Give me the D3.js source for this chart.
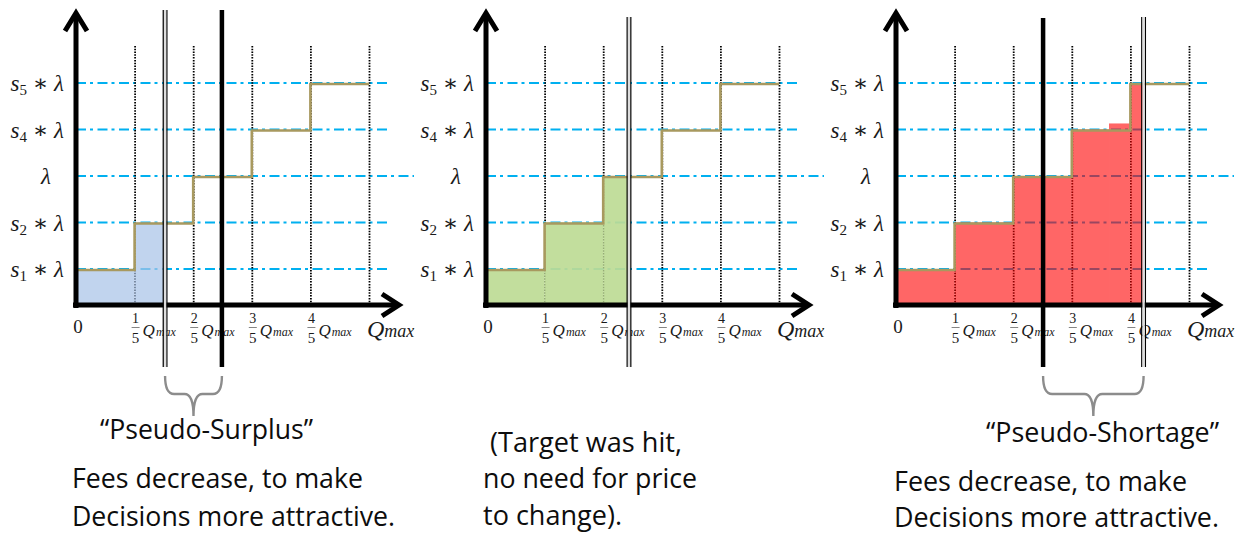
<!DOCTYPE html>
<html>
<head>
<meta charset="utf-8">
<script src="https://cdn.jsdelivr.net/npm/d3@7"></script>
<style>
body { margin: 0; background: #fff; }
</style>
</head>
<body>
<script>
// price levels, in grid units (s1*λ ... s5*λ)
var levels = [1, 2, 3, 4, 5];
var levelSubs = ["1", "2", null, "4", "5"]; // null = plain λ
// quantity ticks as fractions of Qmax
var tickFractions = [0.2, 0.4, 0.6, 0.8, 1];
var tickNumerators = ["1", "2", "3", "4"];
// step function: price level from each fifth of Qmax on
var stepX = [0, 0.2, 0.4, 0.6, 0.8, 1];
var stepLevel = [1, 2, 3, 4, 5, 5];

// filled area under the steps for each panel: [from, to, level]
var surplusBars = [[0, 0.2, 1], [0.2, 0.31, 2]];
var targetBars = [[0, 0.2, 1], [0.2, 0.4, 2], [0.4, 0.487, 3]];
var shortageBars = [[0, 0.2, 1], [0.2, 0.4, 2], [0.4, 0.6, 3],
  [0.6, 0.727, 4], [0.727, 0.8, 4.13], [0.8, 0.845, 5]];

// markers (fractions of Qmax): thick = target, double = actual
var thickMarks = [0.498, null, 0.502];
var doubleMarks = [0.304, 0.488, 0.845];

// captions under each panel
var braceLabels = ["\u201cPseudo-Surplus\u201d", null, "\u201cPseudo-Shortage\u201d"];
var captionLines = [
  ["Fees decrease, to make", "Decisions more attractive."],
  ["(Target was hit,", "no need for price", "to change)."],
  ["Fees decrease, to make", "Decisions more attractive."]
];

var width = 1243, height = 536;
var svg = d3.select("body").append("svg")
  .attr("width", width)
  .attr("height", height);

var plotW = 293;
var x = d3.scaleLinear().domain([0, 1]).range([0, plotW]);
var y = d3.scaleLinear().domain([0.226, 5]).range([305, 83]);

var panels = [
  {ox: 76, bars: surplusBars, fill: "#a9c3e8", opacity: 0.72, markTop: 10},
  {ox: 486, bars: targetBars, fill: "#bddb95", opacity: 0.92, markTop: 17},
  {ox: 896, bars: shortageBars, fill: "#ff0000", opacity: 0.6, markTop: 17}
];

var mathFont = "'Liberation Serif', 'DejaVu Serif', serif";
var textFont = "'Open Sans', 'Noto Sans', sans-serif";

panels.forEach(function(p, i) {
  var g = svg.append("g").attr("transform", "translate(" + p.ox + ",0)");

  // dash-dot price lines
  g.selectAll(".level")
    .data(levels)
    .enter()
    .append("line")
    .attr("x1", 0)
    .attr("x2", function(d) { return d == 3 ? 338 : 314; })
    .attr("y1", function(d) { return y(d); })
    .attr("y2", function(d) { return y(d); })
    .attr("stroke", "#00b0f0")
    .attr("stroke-width", 2)
    .attr("stroke-dasharray", "10,4,3,4.5");

  // dotted quantity lines
  var xAxis = d3.axisBottom(x)
    .tickValues(tickFractions)
    .tickSize(-(305 - 45))
    .tickFormat("");
  var ax = g.append("g")
    .attr("transform", "translate(0,305)")
    .call(xAxis);
  ax.select(".domain").remove();
  ax.selectAll(".tick line")
    .attr("stroke", "#000")
    .attr("stroke-width", 1.8)
    .attr("stroke-dasharray", "1.5,1.3");

  // fill under the steps
  g.selectAll(".bar")
    .data(p.bars)
    .enter()
    .append("rect")
    .attr("x", function(d) { return x(d[0]); })
    .attr("width", function(d) { return x(d[1]) - x(d[0]); })
    .attr("y", function(d) { return y(d[2]); })
    .attr("height", function(d) { return 305 - y(d[2]); })
    .attr("fill", p.fill)
    .attr("fill-opacity", p.opacity);

  // price step line
  var step = d3.line()
    .x(function(d) { return x(d[0]); })
    .y(function(d) { return y(d[1]) + 1; })
    .curve(d3.curveStepAfter);
  g.append("path")
    .datum(d3.zip(stepX, stepLevel))
    .attr("d", step)
    .attr("fill", "none")
    .attr("stroke", "#a8995f")
    .attr("stroke-width", 2.6);

  // axes with open arrow heads
  g.append("line")
    .attr("x1", 0).attr("x2", 0)
    .attr("y1", 14).attr("y2", 308)
    .attr("stroke", "#000").attr("stroke-width", 5);
  g.append("line")
    .attr("x1", -3).attr("x2", 322)
    .attr("y1", 305).attr("y2", 305)
    .attr("stroke", "#000").attr("stroke-width", 5);
  g.append("path")
    .attr("d", "M-11,31L0,13L11,31")
    .attr("fill", "none").attr("stroke", "#000").attr("stroke-width", 5);
  g.append("path")
    .attr("d", "M306,294L323,305L306,316")
    .attr("fill", "none").attr("stroke", "#000").attr("stroke-width", 5);

  // y labels
  var yl = g.selectAll(".ylab")
    .data(levels)
    .enter()
    .append("text")
    .attr("font-family", mathFont)
    .attr("font-size", 23)
    .attr("fill", "#1a1a1a")
    .attr("y", function(d) { return y(d) + 8; })
    .attr("x", function(d, j) { return levelSubs[j] ? -12 : -30; })
    .attr("text-anchor", function(d, j) { return levelSubs[j] ? "end" : "middle"; });
  yl.each(function(d, j) {
    var t = d3.select(this);
    if (levelSubs[j]) {
      t.append("tspan").attr("font-style", "italic").text("s");
      t.append("tspan").attr("font-size", 15).attr("dy", 4).text(levelSubs[j]);
      t.append("tspan").attr("dy", -4).text(" \u2217 ");
    }
    t.append("tspan").attr("font-style", "italic").text("\u03bb");
  });

  // x labels
  g.append("text")
    .attr("x", 2).attr("y", 333)
    .attr("text-anchor", "middle")
    .attr("font-family", mathFont).attr("font-size", 19)
    .attr("fill", "#1a1a1a")
    .text("0");
  tickNumerators.forEach(function(n, j) {
    var tx = x(tickFractions[j]) + 1;
    g.append("text")
      .attr("x", tx).attr("y", 323)
      .attr("text-anchor", "middle")
      .attr("font-family", mathFont).attr("font-size", 14)
      .attr("fill", "#1a1a1a").text(n);
    g.append("line")
      .attr("x1", tx - 4).attr("x2", tx + 4)
      .attr("y1", 327.5).attr("y2", 327.5)
      .attr("stroke", "#666").attr("stroke-width", 0.8);
    g.append("text")
      .attr("x", tx).attr("y", 343)
      .attr("text-anchor", "middle")
      .attr("font-family", mathFont).attr("font-size", 15)
      .attr("fill", "#1a1a1a").text("5");
    var q = g.append("text")
      .attr("x", tx + 7).attr("y", 336)
      .attr("font-family", mathFont).attr("font-style", "italic")
      .attr("font-size", 17).attr("fill", "#1a1a1a");
    q.append("tspan").text("Q");
    q.append("tspan").attr("font-size", 12).attr("dx", 1).text("max");
  });
  var qm = g.append("text")
    .attr("x", x(1) - 2).attr("y", 337)
    .attr("font-family", mathFont).attr("font-style", "italic")
    .attr("font-size", 24).attr("fill", "#1a1a1a");
  qm.append("tspan").text("Q");
  qm.append("tspan").attr("font-size", 18).text("max");

  // double line (actual)
  var dx = x(doubleMarks[i]);
  [-1.8, 1.8].forEach(function(o) {
    g.append("line")
      .attr("x1", dx + o).attr("x2", dx + o)
      .attr("y1", p.markTop).attr("y2", 367)
      .attr("stroke", "#000").attr("stroke-width", 1.3);
  });
  g.append("line")
    .attr("x1", dx).attr("x2", dx)
    .attr("y1", p.markTop).attr("y2", 367)
    .attr("stroke", "#ddd").attr("stroke-width", 2.3);

  // thick line (target)
  if (thickMarks[i] != null) {
    var tx2 = x(thickMarks[i]);
    g.append("line")
      .attr("x1", tx2).attr("x2", tx2)
      .attr("y1", i == 0 ? 10 : 18).attr("y2", 367)
      .attr("stroke", "#000").attr("stroke-width", 4.5);

    // brace between the two lines
    var b0 = Math.min(dx, tx2), b1 = Math.max(dx, tx2);
    var bm = (b0 + b1) / 2, top = 376, mid = 394, tip = 416, r = 9;
    g.append("path")
      .attr("d", "M" + b0 + "," + top +
        "Q" + b0 + "," + mid + " " + (b0 + r) + "," + mid +
        "L" + (bm - r) + "," + mid +
        "Q" + bm + "," + mid + " " + bm + "," + tip +
        "Q" + bm + "," + mid + " " + (bm + r) + "," + mid +
        "L" + (b1 - r) + "," + mid +
        "Q" + b1 + "," + mid + " " + b1 + "," + top)
      .attr("fill", "none")
      .attr("stroke", "#8c8c8c")
      .attr("stroke-width", 2.4);
  }
});

// captions (absolute layout: left x, baseline, width)
var braceLayout = [[100, 439, 213], null, [986, 442, 233]];
var captionLayout = [
  [[72, 488, 291], [72, 526, 323]],
  [[490, 452, 192], [483, 488, 214], [483, 525, 139]],
  [[894, 491, 293], [894, 527, 325]]
];

function caption(txt, pos) {
  svg.append("text")
    .attr("x", pos[0]).attr("y", pos[1])
    .attr("font-family", textFont)
    .attr("font-size", 27)
    .attr("fill", "#0d0d0d")
    .attr("textLength", pos[2])
    .attr("lengthAdjust", "spacingAndGlyphs")
    .text(txt);
}

braceLabels.forEach(function(t, i) {
  if (t) caption(t, braceLayout[i]);
});
captionLines.forEach(function(lines, i) {
  lines.forEach(function(t, j) {
    caption(t, captionLayout[i][j]);
  });
});
</script>
</body>
</html>
